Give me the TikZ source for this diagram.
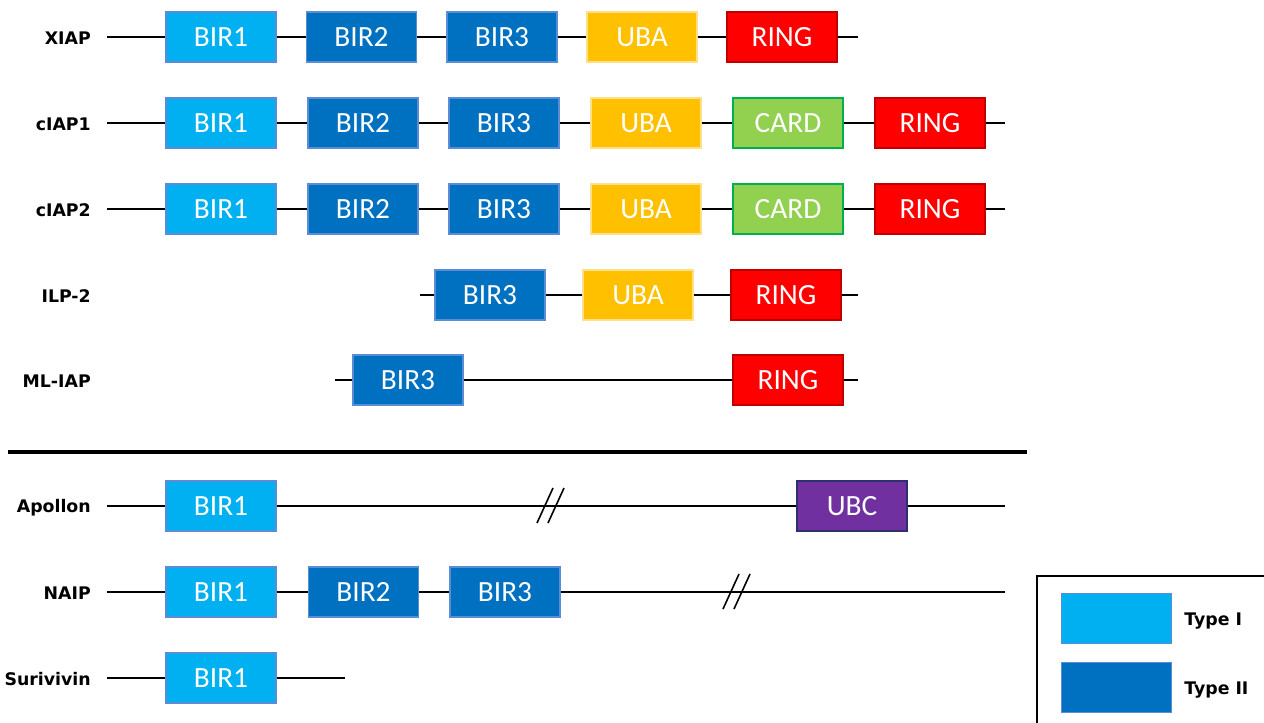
\documentclass[tikz,border=0pt]{standalone}
\usepackage{fontspec}
\setmainfont{Carlito}
\newfontfamily\labfont{DejaVu Sans}
\definecolor{typeI}{HTML}{00B0F0}
\definecolor{typeII}{HTML}{0070C0}
\definecolor{blueedge}{HTML}{5B8DD6}
\definecolor{ubafill}{HTML}{FFC000}
\definecolor{ubaedge}{HTML}{FFE08A}
\definecolor{ringfill}{HTML}{FF0000}
\definecolor{ringedge}{HTML}{C00000}
\definecolor{cardfill}{HTML}{92D050}
\definecolor{cardedge}{HTML}{00B050}
\definecolor{ubcfill}{HTML}{7030A0}
\definecolor{ubcedge}{HTML}{2F2F6F}
\tikzset{
  dom/.style={minimum width=82.5pt, minimum height=37.5pt, inner sep=0pt, line width=0.9pt,
    text=white, font=\fontsize{22}{22}\selectfont},
  t1/.style={dom, fill=typeI, draw=blueedge},
  t2/.style={dom, fill=typeII, draw=blueedge},
  uba/.style={dom, fill=ubafill, draw=ubaedge},
  ring/.style={dom, fill=ringfill, draw=ringedge},
  card/.style={dom, fill=cardfill, draw=cardedge},
  ubc/.style={dom, fill=ubcfill, draw=ubcedge},
  lab/.style={anchor=east, inner sep=0pt, yshift=-1pt, font=\labfont\bfseries\fontsize{13}{13}\selectfont},
  link/.style={line width=1.5pt, black},
  brk/.style={line width=1.2pt, black},
}
\newcommand{\dt}[1]{\raisebox{-1.2pt}{#1}}
\begin{document}
\begin{tikzpicture}[x=0.75pt,y=-0.75pt]
\useasboundingbox (0,0) rectangle (1264,722);
% XIAP
\node[lab] (lXIAP) at (91,37) {XIAP};
\coordinate (a0) at (107,37); \coordinate (a9) at (858,37);
\node[t1] (a1) at (221,37) {\dt{BIR1}};
\node[t2] (a2) at (361.5,37) {\dt{BIR2}};
\node[t2] (a3) at (502,37) {\dt{BIR3}};
\node[uba] (a4) at (642,37) {\dt{UBA}};
\node[ring] (a5) at (782,37) {\dt{RING}};
\draw[link] (a0) -- (a1.west) (a1.east) -- (a2.west) (a2.east) -- (a3.west) (a3.east) -- (a4.west) (a4.east) -- (a5.west) (a5.east) -- (a9);
% cIAP1
\node[lab] (lC1) at (91,123) {cIAP1};
\coordinate (b0) at (107,123); \coordinate (b9) at (1005,123);
\node[t1] (b1) at (221,123) {\dt{BIR1}};
\node[t2] (b2) at (363,123) {\dt{BIR2}};
\node[t2] (b3) at (504,123) {\dt{BIR3}};
\node[uba] (b4) at (646,123) {\dt{UBA}};
\node[card] (b5) at (788,123) {\dt{CARD}};
\node[ring] (b6) at (930,123) {\dt{RING}};
\draw[link] (b0) -- (b1.west) (b1.east) -- (b2.west) (b2.east) -- (b3.west) (b3.east) -- (b4.west) (b4.east) -- (b5.west) (b5.east) -- (b6.west) (b6.east) -- (b9);
% cIAP2
\node[lab] (lC2) at (91,209) {cIAP2};
\coordinate (c0) at (107,209); \coordinate (c9) at (1005,209);
\node[t1] (c1) at (221,209) {\dt{BIR1}};
\node[t2] (c2) at (363,209) {\dt{BIR2}};
\node[t2] (c3) at (504,209) {\dt{BIR3}};
\node[uba] (c4) at (646,209) {\dt{UBA}};
\node[card] (c5) at (788,209) {\dt{CARD}};
\node[ring] (c6) at (930,209) {\dt{RING}};
\draw[link] (c0) -- (c1.west) (c1.east) -- (c2.west) (c2.east) -- (c3.west) (c3.east) -- (c4.west) (c4.east) -- (c5.west) (c5.east) -- (c6.west) (c6.east) -- (c9);
% ILP-2
\node[lab] (lI) at (91,295) {ILP-2};
\coordinate (d0) at (420,295); \coordinate (d9) at (858,295);
\node[t2] (d3) at (490,295) {\dt{BIR3}};
\node[uba] (d4) at (638,295) {\dt{UBA}};
\node[ring] (d5) at (786,295) {\dt{RING}};
\draw[link] (d0) -- (d3.west) (d3.east) -- (d4.west) (d4.east) -- (d5.west) (d5.east) -- (d9);
% ML-IAP
\node[lab] (lM) at (91,380) {ML-IAP};
\coordinate (e0) at (335,380); \coordinate (e9) at (858,380);
\node[t2] (e3) at (408,380) {\dt{BIR3}};
\node[ring] (e5) at (788,380) {\dt{RING}};
\draw[link] (e0) -- (e3.west) (e3.east) -- (e5.west) (e5.east) -- (e9);
% separator
\coordinate (s0) at (8,452); \coordinate (s1) at (1027,452);
\draw[line width=2.6pt] (s0) -- (s1);
% Apollon
\node[lab] (lA) at (91,506) {Apollon};
\coordinate (f0) at (107,506); \coordinate (f9) at (1005,506);
\node[t1] (f1) at (221,506) {\dt{BIR1}};
\node[ubc] (f6) at (852,506) {\dt{UBC}};
\draw[link] (f0) -- (f1.west) (f1.east) -- (f6.west) (f6.east) -- (f9);
\draw[brk] (537,523) -- (553,488) (548,523) -- (564,488);
% NAIP
\node[lab] (lN) at (91,592) {NAIP};
\coordinate (g0) at (107,592); \coordinate (g9) at (1005,592);
\node[t1] (g1) at (221,592) {\dt{BIR1}};
\node[t2] (g2) at (363.5,592) {\dt{BIR2}};
\node[t2] (g3) at (505,592) {\dt{BIR3}};
\draw[link] (g0) -- (g1.west) (g1.east) -- (g2.west) (g2.east) -- (g3.west) (g3.east) -- (g9);
\draw[brk] (723,609) -- (739,574) (734,609) -- (750,574);
% Surivivin
\node[lab] (lS) at (91,678) {Surivivin};
\coordinate (h0) at (107,678); \coordinate (h9) at (345,678);
\node[t1] (h1) at (221,678) {\dt{BIR1}};
\draw[link] (h0) -- (h1.west) (h1.east) -- (h9);
% legend
\draw[line width=1.5pt] (1037,740) -- (1037,576) -- (1280,576);
\node[t1] (k1) at (1116.5,618.5) {};
\node[t2] (k2) at (1116.5,687.5) {};
\node[lab, anchor=west] (kt1) at (1184,620) {Type I};
\node[lab, anchor=west] (kt2) at (1184,689) {Type II};
\end{tikzpicture}
\end{document}
